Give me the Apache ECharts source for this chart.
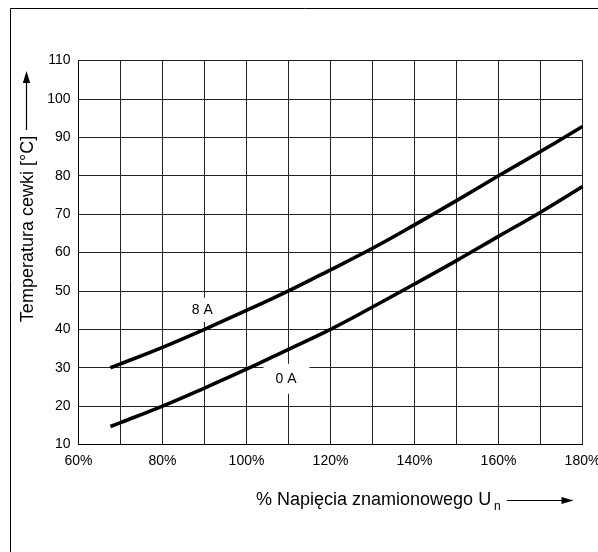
<!DOCTYPE html>
<html>
<head>
<meta charset="utf-8">
<style>
  html, body { margin: 0; padding: 0; background: #fff; }
  #chart { width: 598px; height: 552px; }
</style>
<script src="https://cdn.jsdelivr.net/npm/echarts@6/dist/echarts.min.js"></script>
</head>
<body>
<div id="chart"></div>
<script>
// ---- data ----
const voltagePct = [67.6, 70, 80, 90, 100, 110, 120, 130, 140, 150, 160, 170, 180];
const temp8A = [30, 31, 35.3, 40, 44.9, 50, 55.5, 61.1, 67.2, 73.5, 80, 86.3, 92.8];
const temp0A = [14.7, 15.7, 20, 24.7, 29.6, 34.8, 40, 45.8, 51.8, 57.9, 64.2, 70.5, 77.2];
const seriesNames = ['8 A', '0 A'];
const labelAnchors = [[90.55, 45.1], [109.52, 27.1]];
const xTitle = '% Napięcia znamionowego U';
const xTitleSub = 'n';
const yTitle = 'Temperatura cewki [°C]';

const FONT = '"Liberation Sans", Arial, sans-serif';
const chart = echarts.init(document.getElementById('chart'), null, { renderer: 'canvas' });

function pairs(xs, ys) { return xs.map((x, i) => [x, ys[i]]); }

const option = {
  animation: false,
  backgroundColor: '#fff',
  grid: {
    left: 78.5, top: 60.5, width: 504, height: 384,
    containLabel: false, outerBoundsMode: 'none',
    show: true, borderColor: '#000', borderWidth: 1
  },
  xAxis: {
    type: 'value', min: 60, max: 180, interval: 10,
    axisLine: { show: true, lineStyle: { color: '#000', width: 1 } },
    axisTick: { show: false },
    splitLine: { show: true, lineStyle: { color: '#222', width: 1 } },
    axisLabel: {
      color: '#000', fontFamily: FONT, fontSize: 14, margin: 10,
      hideOverlap: false,
      formatter: v => (v % 20 === 0 ? v + '%' : '')
    }
  },
  yAxis: {
    type: 'value', min: 10, max: 110, interval: 10,
    axisLine: { show: true, lineStyle: { color: '#000', width: 1 } },
    axisTick: { show: false },
    splitLine: { show: true, lineStyle: { color: '#222', width: 1 } },
    axisLabel: { color: '#000', fontFamily: FONT, fontSize: 14, margin: 8 }
  },
  series: [
    {
      type: 'scatter', z: 1, silent: true,
      symbolSize: 1, itemStyle: { color: '#fff', opacity: 1 },
      emphasis: { disabled: true },
      data: labelAnchors.map((p, i) => ({
        value: p,
        label: {
          show: true, position: 'inside', formatter: seriesNames[i],
          color: '#000', opacity: 1, fontFamily: FONT, fontSize: 14, lineHeight: 14,
          backgroundColor: '#fff',
          padding: i === 0 ? [3, 14, 7, 5] : [7, 13, 9, 12]
        }
      }))
    },
    {
      name: seriesNames[0], type: 'line', z: 3, smooth: 0.4, showSymbol: false,
      lineStyle: { color: '#000', width: 3.6 },
      data: pairs(voltagePct, temp8A)
    },
    {
      name: seriesNames[1], type: 'line', z: 3, smooth: 0.4, showSymbol: false,
      lineStyle: { color: '#000', width: 3.6 },
      data: pairs(voltagePct, temp0A)
    }
  ],
  graphic: [
    // outer frame
    { type: 'rect', shape: { x: 10.5, y: 8.5, width: 700, height: 700 }, style: { fill: 'none', stroke: '#000', lineWidth: 1 }, z: -10 },
    // y title + arrow
    { type: 'text', x: 28.5, y: 229, rotation: Math.PI / 2,
      style: { text: yTitle, font: '18px ' + FONT, fill: '#000', align: 'center', verticalAlign: 'middle' } },
    { type: 'line', shape: { x1: 26.5, y1: 130, x2: 26.5, y2: 80 }, style: { stroke: '#000', lineWidth: 1.2 } },
    { type: 'polygon', shape: { points: [[26.5, 71], [22.8, 83], [30.2, 83]] }, style: { fill: '#000' } },
    // x title + arrow
    { type: 'text', x: 256, y: 500,
      style: { text: xTitle, font: '18px ' + FONT, fill: '#000', align: 'left', verticalAlign: 'middle' } },
    { type: 'text', x: 494, y: 506.5,
      style: { text: xTitleSub, font: '12px ' + FONT, fill: '#000', align: 'left', verticalAlign: 'middle' } },
    { type: 'line', shape: { x1: 507, y1: 500.5, x2: 565, y2: 500.5 }, style: { stroke: '#000', lineWidth: 1.2 } },
    { type: 'polygon', shape: { points: [[573.5, 500.5], [561.5, 497], [561.5, 504]] }, style: { fill: '#000' } }
  ]
};
chart.setOption(option);
</script>
</body>
</html>
